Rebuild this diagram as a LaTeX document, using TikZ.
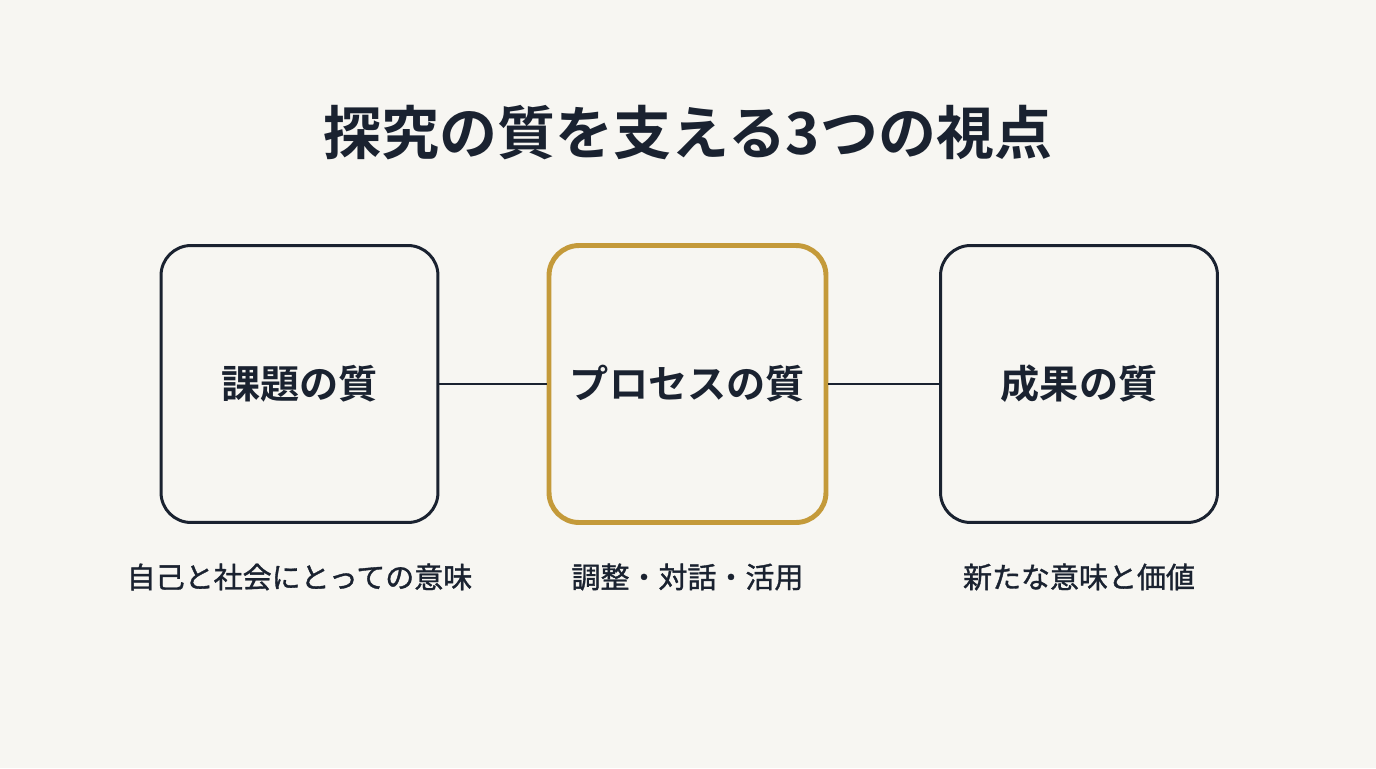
\documentclass[tikz,border=0pt]{standalone}
\usepackage{fontspec}
\setmainfont{Noto Sans CJK JP}
\newfontfamily\cjkbold{Noto Sans CJK JP Bold}
\newfontfamily\cjkmed[FakeBold=1.2]{Noto Sans CJK JP}
\usetikzlibrary{positioning}
\definecolor{bgcol}{HTML}{F7F6F2}
\definecolor{inkcol}{HTML}{1A2230}
\definecolor{goldcol}{HTML}{C49A3A}
\tikzset{
    box/.style={draw=inkcol, line width=1.7pt, rounded corners=0.6cm, minimum width=5.54cm, minimum height=5.54cm, text=inkcol, font=\cjkbold\fontsize{22.3}{26}\selectfont},
    goldbox/.style={box, draw=goldcol, line width=2.8pt},
    sub/.style={text=inkcol, font=\cjkmed\fontsize{16.5}{20}\selectfont},
    link/.style={draw=inkcol, line width=1.1pt}
}
\begin{document}
\begin{tikzpicture}[x=0.02cm, y=-0.02cm]
                \fill[bgcol] (0,0) rectangle (1376,768);
                \useasboundingbox (0,0) rectangle (1376,768);
                \node[text=inkcol, font=\cjkbold\fontsize{33}{40}\selectfont] (title) at (688,133) {探究の質を支える3つの視点};
                \node[box] (kadai) at (299.5,384) {課題の質};
                \node[goldbox] (process) at (687.5,384) {プロセスの質};
                \node[box] (seika) at (1079,384) {成果の質};
                \draw[link] (kadai) -- (process);
                \draw[link] (process) -- (seika);
                \node[sub] (kadaisub) at (299.5,577) {自己と社会にとっての意味};
                \node[sub] (processsub) at (687.5,577) {調整・対話・活用};
                \node[sub] (seikasub) at (1079,577) {新たな意味と価値};
\end{tikzpicture}
\end{document}
